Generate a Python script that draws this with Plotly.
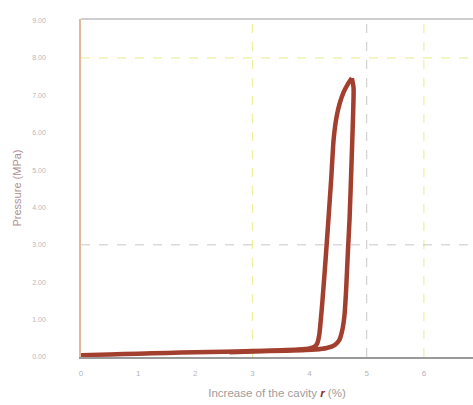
import plotly.graph_objects as go

# Loading branch (increase of cavity r in %, pressure in MPa)
load_r = [0.0, 0.5, 1.0, 1.5, 2.0, 2.5, 3.0, 3.5, 3.8, 4.0, 4.08, 4.13, 4.17, 4.22, 4.28, 4.34, 4.38, 4.42, 4.47, 4.53, 4.6, 4.67, 4.74]
load_p = [0.05, 0.07, 0.09, 0.11, 0.13, 0.14, 0.16, 0.18, 0.20, 0.23, 0.27, 0.35, 0.6, 1.4, 2.6, 3.9, 4.8, 5.8, 6.4, 6.8, 7.1, 7.3, 7.46]

# Unloading branch
unload_r = [4.74, 4.77, 4.76, 4.73, 4.70, 4.67, 4.64, 4.61, 4.57, 4.52, 4.44, 4.3, 4.1, 3.6, 3.0, 2.6]
unload_p = [7.46, 7.2, 6.4, 5.0, 3.7, 2.8, 1.8, 1.1, 0.7, 0.45, 0.32, 0.24, 0.2, 0.17, 0.15, 0.13]

x_ticks = [0, 1, 2, 3, 4, 5, 6]
y_ticks = [0, 1, 2, 3, 4, 5, 6, 7, 8, 9]
y_labels = ["0.00", "1.00", "2.00", "3.00", "4.00", "5.00", "6.00", "7.00", "8.00", "9.00"]

grid_x_grey = [5]
grid_x_yellow = [3, 6]
grid_y_grey = [3]
grid_y_yellow = [8]

line_color = "#a33f2e"

fig = go.Figure()
fig.add_trace(go.Scatter(x=load_r, y=load_p, mode="lines",
                         line=dict(color=line_color, width=4.5, shape="spline", smoothing=0.5),
                         showlegend=False, hoverinfo="skip"))
fig.add_trace(go.Scatter(x=unload_r, y=unload_p, mode="lines",
                         line=dict(color=line_color, width=4.5, shape="spline", smoothing=0.5),
                         showlegend=False, hoverinfo="skip"))

for gx in grid_x_grey:
    fig.add_vline(x=gx, line=dict(color="#c8c8c8", width=1, dash="dash"), layer="below")
for gx in grid_x_yellow:
    fig.add_vline(x=gx, line=dict(color="#eef0a0", width=1.2, dash="dash"), layer="below")
for gy in grid_y_grey:
    fig.add_hline(y=gy, line=dict(color="#c8c8c8", width=1, dash="dash"), layer="below")
for gy in grid_y_yellow:
    fig.add_hline(y=gy, line=dict(color="#eef0a0", width=1.2, dash="dash"), layer="below")

fig.update_layout(
    width=473, height=405,
    margin=dict(l=81, r=0, t=19, b=48),
    paper_bgcolor="white", plot_bgcolor="white",
    font=dict(family="Liberation Sans, Arial, sans-serif", color="#a8a8ae"),
    xaxis=dict(
        range=[0, 6.86], tickvals=x_ticks, ticktext=[str(v) for v in x_ticks],
        showgrid=False, zeroline=False,
        showline=True, linecolor="#9a9a9a", linewidth=1.5, mirror=False,
        tickfont=dict(size=8, color="#b4b4bc"), ticks="",
        ticklabelstandoff=8,
        title=dict(text="Increase of the cavity <b><i><span style='color:#8e2a1f'>r</span></i></b> (%)",
                   font=dict(size=11.5, color="#a09c9c"), standoff=12),
    ),
    yaxis=dict(
        range=[0, 9.04], tickvals=y_ticks, ticktext=y_labels,
        showgrid=False, zeroline=False,
        showline=True, linecolor="#e2b898", linewidth=1.5,
        tickfont=dict(size=7, color="#b8b8c0"), ticks="",
        ticklabelstandoff=32,
        title=dict(text="Pressure (MPa)", font=dict(size=11, color="#b09090"), standoff=8),
    ),
)

# top border
fig.add_shape(type="line", xref="paper", yref="paper", x0=0, x1=1, y0=1, y1=1,
              line=dict(color="#a0a0a0", width=1.2))

fig.write_html("out.html")
